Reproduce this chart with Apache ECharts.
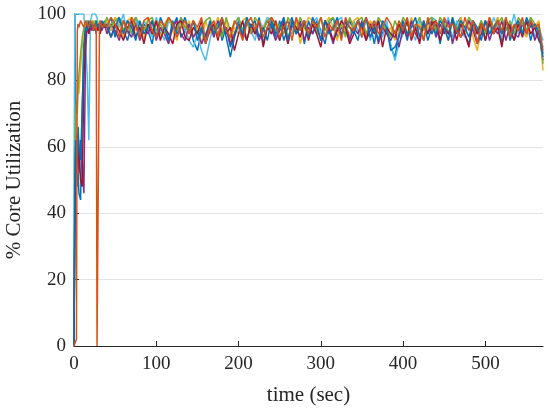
<!DOCTYPE html>
<html>
<head>
<meta charset="utf-8">
<script src="https://cdn.jsdelivr.net/npm/echarts@6/dist/echarts.min.js"></script>
<style>
  html, body { margin: 0; padding: 0; background: #fff; }
  #chart { width: 550px; height: 412px; }
</style>
</head>
<body>
<div id="chart"></div>
<script>
// sample times (sec)
const times = [0, 1, 2, 3, 4, 5, 6, 8, 10, 12, 14, 16, 18, 20, 22, 24, 26, 27, 28, 30, 31, 32, 34, 37,
  40, 45, 50, 55, 60, 65, 70, 75, 80, 85, 90, 95, 100, 105, 110, 115, 120, 125, 130, 135,
  140, 145, 150, 155, 160, 165, 170, 175, 180, 185, 190, 195, 200, 205, 210, 215, 220, 225,
  230, 235, 240, 245, 250, 255, 260, 265, 270, 275, 280, 285, 290, 295, 300, 305, 310, 315,
  320, 325, 330, 335, 340, 345, 350, 355, 360, 365, 370, 375, 380, 385, 390, 395, 400, 405,
  410, 415, 420, 425, 430, 435, 440, 445, 450, 455, 460, 465, 470, 475, 480, 485, 490, 495,
  500, 505, 510, 515, 520, 525, 530, 535, 540, 545, 550, 555, 560, 565, 570];

const xTicks = [0, 100, 200, 300, 400, 500];

// core utilization per core (%)
const core1 = [0, 100, 70, 55, 48, 52, 46, 44, 70, 92, 97, 96, 97, 95, 97, 96, 98, 97, 96, 97, 95, 97, 96, 98,
  96, 99, 93, 98, 95, 92, 97, 99, 94, 97,
  95, 91, 98, 94, 97, 92, 96, 99, 93, 95,
  97, 92, 89, 95, 93, 97, 94, 98, 92, 96,
  90, 94, 98, 95, 92, 97, 94, 99, 91, 96,
  97, 93, 98, 92, 96, 99, 94, 97, 91, 98,
  94, 98, 95, 91, 97, 99, 93, 96, 94, 98,
  95, 92, 98, 94, 97, 91, 98, 94, 96, 90,
  87, 94, 97, 92, 98, 95, 97, 92, 98, 94,
  97, 91, 98, 94, 93, 97, 99, 94, 91, 97,
  94, 98, 92, 97, 94, 99, 91, 96, 95, 92,
  97, 94, 98, 92, 97, 95, 88];
const core2 = [0, 100, 100, 100, 100, 100, 100, 100, 100, 100, 100, 82, 62, 98, 100, 100, 100, 100, 99, 96, 97, 98, 96, 97,
  98, 95, 99, 96, 100, 94, 97, 99, 93, 98,
  96, 93, 99, 95, 92, 98, 96, 94, 99, 95,
  92, 90, 94, 89, 86, 92, 97, 94, 98, 95,
  93, 97, 99, 94, 98, 95, 92, 98, 96, 99,
  98, 95, 92, 98, 96, 94, 99, 95, 98, 93,
  97, 99, 94, 98, 95, 92, 98, 99, 95, 93,
  98, 95, 93, 99, 92, 98, 96, 93, 98, 91,
  86, 91, 94, 98, 95, 92, 98, 96, 94, 99,
  98, 94, 96, 99, 92, 98, 95, 93, 98, 96,
  92, 95, 98, 94, 99, 96, 93, 98, 95, 100,
  94, 98, 95, 99, 93, 96, 92];
const core3 = [0, 30, 62, 70, 74, 80, 76, 84, 90, 94, 97, 98, 96, 97, 96, 98, 97, 95, 97, 96, 98, 97, 96, 97,
  98, 95, 99, 97, 93, 98, 99, 95, 97, 92,
  99, 95, 98, 93, 97, 99, 95, 92, 98, 96,
  98, 93, 96, 91, 98, 94, 96, 99, 95, 98,
  92, 96, 94, 98, 99, 95, 97, 93, 96, 98,
  94, 98, 95, 99, 93, 96, 98, 91, 96, 99,
  98, 95, 93, 97, 99, 96, 92, 98, 95, 94,
  98, 99, 95, 93, 98, 96, 92, 97, 94, 96,
  92, 95, 98, 94, 99, 95, 97, 93, 96, 98,
  94, 98, 96, 92, 98, 95, 99, 94, 98, 93,
  89, 95, 98, 94, 96, 99, 95, 98, 93, 96,
  98, 95, 93, 97, 96, 98, 83];
const core4 = [0, 40, 58, 64, 55, 60, 52, 62, 56, 46, 88, 97, 94, 96, 95, 97, 96, 94, 96, 95, 97, 96, 95, 97,
  94, 97, 95, 92, 98, 95, 93, 97, 92, 96,
  94, 98, 92, 96, 94, 91, 96, 98, 94, 92,
  97, 93, 95, 91, 94, 97, 93, 98, 94, 96,
  91, 94, 97, 93, 98, 94, 96, 92, 95, 98,
  96, 92, 95, 98, 91, 97, 94, 98, 92, 96,
  94, 97, 92, 98, 95, 91, 96, 94, 98, 92,
  96, 94, 98, 92, 95, 97, 91, 96, 94, 92,
  95, 90, 96, 93, 98, 94, 92, 97, 94, 98,
  93, 97, 94, 98, 91, 96, 93, 95, 98, 95,
  91, 94, 98, 92, 96, 94, 98, 92, 97, 94,
  93, 97, 94, 98, 92, 95, 86];
const core5 = [0, 50, 68, 74, 70, 78, 82, 88, 93, 96, 96, 98, 97, 96, 98, 97, 96, 98, 97, 96, 97, 98, 96, 97,
  99, 96, 98, 99, 95, 98, 94, 99, 97, 95,
  98, 99, 95, 97, 94, 99, 97, 95, 99, 96,
  95, 98, 94, 96, 98, 99, 95, 97, 93, 99,
  95, 97, 99, 95, 98, 94, 99, 97, 95, 98,
  99, 95, 97, 94, 99, 97, 95, 99, 96, 94,
  97, 94, 99, 95, 98, 99, 95, 97, 93, 99,
  96, 98, 99, 94, 97, 95, 99, 97, 95, 93,
  98, 95, 99, 97, 94, 96, 99, 95, 98, 99,
  95, 99, 97, 94, 99, 95, 98, 96, 99, 97,
  95, 98, 94, 99, 96, 97, 99, 95, 98, 94,
  99, 97, 95, 99, 97, 96, 85];
const core6 = [0, 35, 60, 52, 56, 64, 58, 50, 48, 80, 95, 96, 94, 97, 96, 95, 97, 96, 95, 97, 96, 94, 97, 96,
  96, 93, 97, 95, 92, 96, 98, 93, 96, 91,
  97, 94, 98, 92, 96, 94, 91, 97, 98, 93,
  92, 96, 94, 98, 91, 95, 97, 92, 98, 94,
  96, 89, 94, 98, 92, 97, 94, 98, 90, 96,
  94, 98, 92, 97, 91, 98, 96, 93, 98, 92,
  97, 94, 90, 98, 96, 92, 95, 98, 96, 91,
  94, 98, 96, 92, 97, 94, 98, 90, 96, 94,
  93, 97, 94, 98, 92, 96, 91, 98, 94, 97,
  98, 92, 96, 94, 98, 92, 97, 94, 90, 98,
  94, 97, 92, 98, 94, 96, 90, 98, 96, 92,
  97, 93, 98, 94, 96, 92, 90];
const core7 = [0, 45, 62, 54, 58, 66, 60, 56, 72, 90, 96, 95, 98, 96, 97, 95, 96, 98, 96, 97, 95, 96, 98, 96,
  97, 93, 96, 99, 94, 98, 96, 92, 98, 94,
  96, 98, 93, 99, 96, 92, 98, 94, 96, 99,
  94, 98, 92, 96, 91, 98, 94, 96, 99, 93,
  87, 93, 97, 94, 99, 96, 98, 93, 96, 92,
  98, 94, 96, 99, 92, 98, 94, 96, 98, 93,
  99, 96, 92, 98, 94, 96, 99, 93, 98, 96,
  94, 98, 96, 99, 93, 96, 92, 98, 96, 89,
  90, 93, 98, 94, 96, 99, 93, 98, 92, 96,
  94, 98, 96, 92, 99, 94, 98, 96, 93, 98,
  96, 92, 98, 94, 96, 98, 94, 99, 92, 96,
  98, 94, 99, 96, 97, 94, 87];
const core8 = [0, 0, 0, 2, 95, 97, 96, 98, 97, 96, 98, 97, 96, 98, 97, 95, 97, 96, 0, 0, 97, 98, 96, 97,
  96, 99, 97, 93, 98, 95, 99, 97, 93, 98,
  99, 95, 93, 98, 96, 99, 97, 93, 96, 98,
  94, 98, 96, 99, 91, 96, 98, 93, 99, 95,
  93, 98, 96, 92, 97, 99, 95, 98, 93, 96,
  99, 97, 93, 96, 98, 92, 99, 95, 98, 94,
  98, 96, 99, 93, 97, 95, 98, 92, 99, 96,
  95, 98, 93, 99, 96, 98, 94, 96, 99, 97,
  94, 98, 95, 99, 93, 97, 96, 92, 99, 95,
  98, 94, 99, 96, 97, 95, 93, 99, 95, 98,
  91, 97, 95, 99, 94, 98, 95, 99, 93, 97,
  95, 99, 94, 98, 96, 97, 89];

const cores = [core1, core2, core3, core4, core5, core6, core7, core8];
const colors = ["#0072BD", "#4DBEEE", "#EDB120", "#7E2F8E", "#77AC30", "#A2142F", "#0072BD", "#D95319"];

const font = "'Liberation Serif', 'DejaVu Serif', serif";
const ink = "#262626";

const chart = echarts.init(document.getElementById("chart"));
chart.setOption({
  animation: false,
  grid: { left: 74, right: 7, top: 14, bottom: 66, outerBoundsMode: "none" },
  xAxis: {
    type: "value",
    min: 0,
    max: 570,
    name: "time (sec)",
    nameLocation: "middle",
    nameGap: 39,
    nameTextStyle: { fontFamily: font, fontSize: 21, color: ink },
    axisLine: { lineStyle: { color: ink, width: 1 } },
    axisTick: { inside: true, length: 5, customValues: xTicks, lineStyle: { color: ink } },
    axisLabel: { customValues: xTicks, fontFamily: font, fontSize: 19, color: ink, margin: 9 },
    splitLine: { show: false },
  },
  yAxis: {
    type: "value",
    min: 0,
    max: 100,
    interval: 20,
    name: "% Core Utilization",
    nameLocation: "middle",
    nameGap: 49,
    nameTextStyle: { fontFamily: font, fontSize: 21, color: ink },
    axisLine: { show: true, lineStyle: { color: ink, width: 1 } },
    axisTick: { show: true, inside: true, length: 5, lineStyle: { color: ink } },
    axisLabel: { fontFamily: font, fontSize: 19, color: ink, margin: 8 },
    splitLine: { lineStyle: { color: "#e3e3e3", width: 1 } },
  },
  series: cores.map((vals, i) => ({
    type: "line",
    showSymbol: false,
    symbol: "none",
    data: vals.map((v, j) => [times[j], v]),
    lineStyle: { color: colors[i], width: 1.5 },
    itemStyle: { color: colors[i] },
  })),
});
</script>
</body>
</html>
